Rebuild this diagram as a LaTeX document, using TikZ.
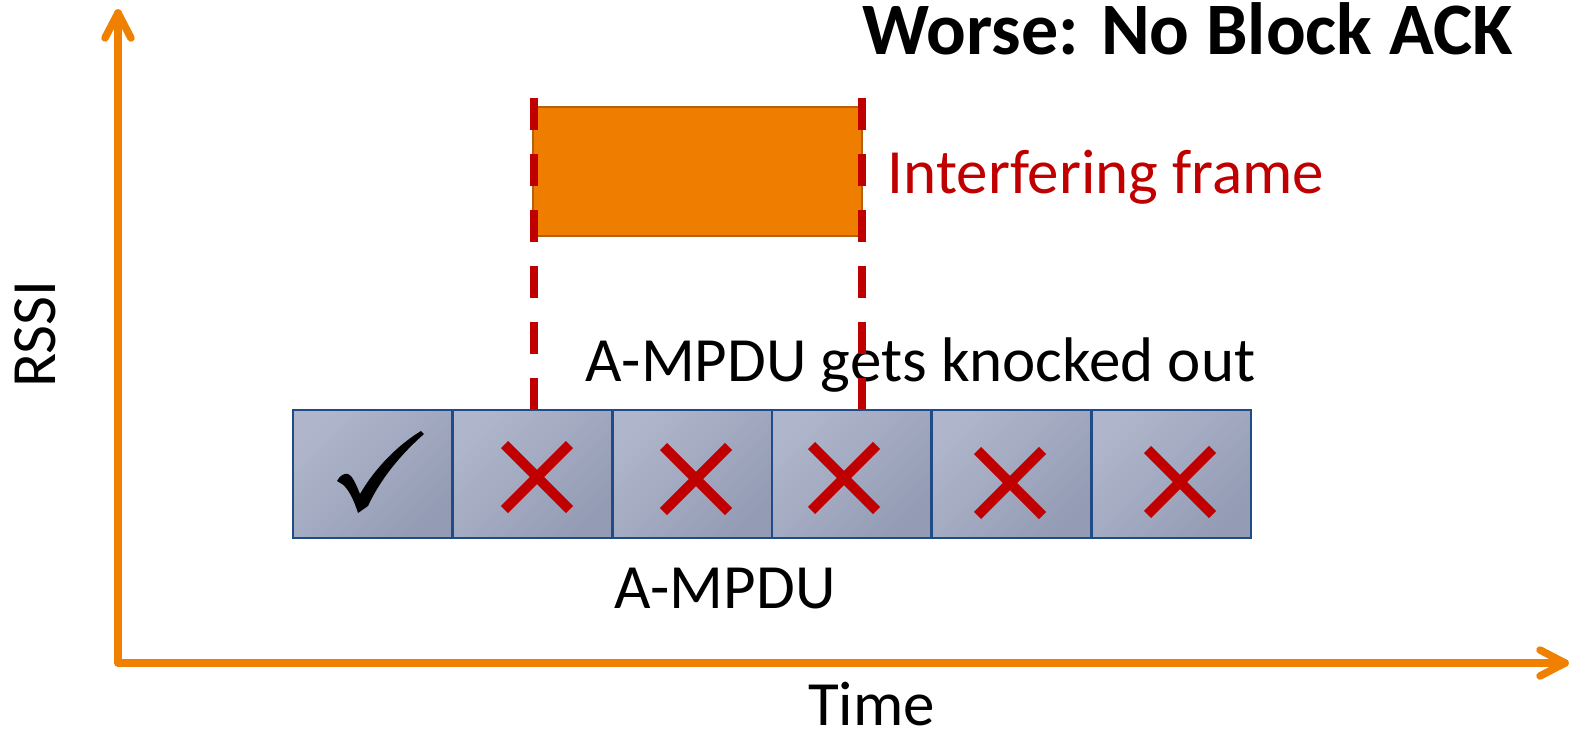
\documentclass[tikz,border=0pt]{standalone}
\usepackage{fontspec}
\setmainfont{Carlito}
\usetikzlibrary{calc}

\definecolor{axisorange}{RGB}{240,128,0}
\definecolor{frameorange}{RGB}{238,125,0}
\definecolor{frameedge}{RGB}{180,96,12}
\definecolor{lossred}{RGB}{192,0,0}
\definecolor{cellhi}{RGB}{175,182,203}
\definecolor{celllo}{RGB}{148,156,181}
\definecolor{celledge}{RGB}{31,76,135}

\tikzset{
  axisline/.style={draw=axisorange, line width=7.5pt, line cap=round, line join=round},
  mpdu/.style={rectangle, draw=celledge, line width=2.5pt, inner sep=0pt,
    minimum width=159.667pt, minimum height=128pt,
    top color=cellhi, bottom color=celllo, shading angle=45},
  lossmark/.style={draw=lossred, line width=10pt},
  cutline/.style={draw=lossred, line width=8pt, dash pattern=on 32pt off 24pt},
  txt/.style={inner sep=0pt, anchor=base, font=\fontsize{63}{70}\selectfont},
  headtxt/.style={inner sep=0pt, anchor=base, font=\fontsize{74}{80}\selectfont\bfseries},
}

\begin{document}
\begin{tikzpicture}[x=1pt, y=-1pt]
\useasboundingbox (0,0) rectangle (1571,737);

% the six subframes of the aggregate
\foreach \i in {0,...,5}
  \node[mpdu] (c\i) at ({293+159.667*(\i+0.5)}, 474) {};

% delivered subframe: a calligraphic tick
\fill[black] (337,481) .. controls (340,475) and (345,473) .. (348,474)
  .. controls (352,475) and (356,484) .. (360,494)
  .. controls (375,468) and (398,445) .. (421,431)
  -- (424,434)
  .. controls (400,455) and (380,480) .. (368,506)
  -- (358,513)
  .. controls (354,500) and (348,488) .. (342,484)
  .. controls (340,482.5) and (338,482) .. (337,481) -- cycle;

% lost subframes
\foreach \n/\x/\y in {1/537/477, 2/696/479, 3/844/478, 4/1010/483, 5/1180/482} {
  \coordinate (m\n) at (\x,\y);
  \draw[lossmark] ($(m\n)+(-32.5,-32.5)$) -- ($(m\n)+(32.5,32.5)$);
  \draw[lossmark] ($(m\n)+(-32.5,32.5)$) -- ($(m\n)+(32.5,-32.5)$);
}

% interfering transmission
\node[draw=frameedge, fill=frameorange, line width=2.5pt, inner sep=0pt,
      minimum width=329pt, minimum height=129pt] (frame) at (697.5,171.5) {};

% texts
\node[headtxt] (title) at (1187.5,54) {Worse: No Block ACK};
\node[txt, text=lossred] (iflabel) at (1106,193) {Interfering frame};
\node[txt] (knock) at (920.5,381) {A-MPDU gets knocked out};
\node[txt] (agg) at (725,608) {A-MPDU};
\node[txt] (xlab) at (871.5,725) {Time};
\node[txt, rotate=90] (ylab) at (55,334) {RSSI};

% extent of the interference
\coordinate (l0) at (534,98);
\coordinate (r0) at (862,98);
\draw[cutline] (l0) -- (l0 |- c1.north);
\draw[cutline] (r0) -- (r0 |- c3.north);

% axes
\coordinate (org) at (118,663);
\coordinate (ytip) at (118,13);
\coordinate (xtip) at (1565,663);
\draw[axisline] (ytip) -- (org) -- (xtip);
\draw[axisline] ($(ytip)+(-13,25)$) -- (ytip) -- ($(ytip)+(13,25)$);
\draw[axisline] ($(xtip)+(-25,-13)$) -- (xtip) -- ($(xtip)+(-25,13)$);
\end{tikzpicture}
\end{document}
